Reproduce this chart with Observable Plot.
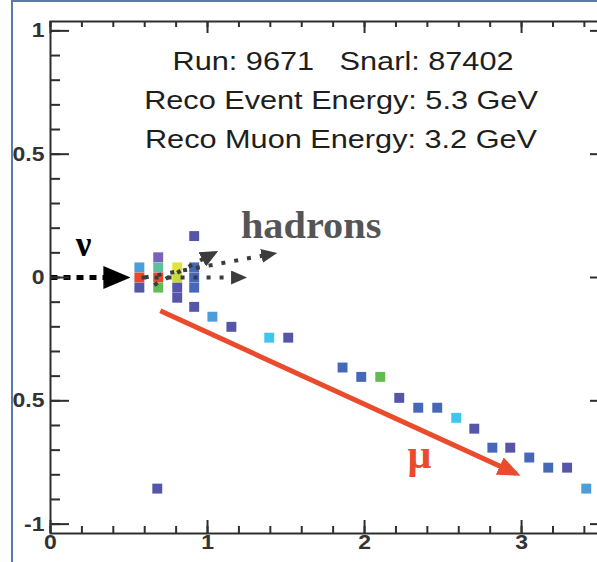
<!DOCTYPE html>
<html>
<head>
<meta charset="utf-8">
<script src="https://cdn.jsdelivr.net/npm/d3@7"></script>
<script src="https://cdn.jsdelivr.net/npm/@observablehq/plot@0.6"></script>
<style>
  html, body { margin: 0; padding: 0; background: #fff; }
  #wrap { position: relative; width: 597px; height: 562px; overflow: hidden; background: #fff; }
  #box { position: absolute; left: 11px; top: 0; width: 700px; height: 700px;
         border-left: 2px solid #5d7ba3; border-top: 2px solid #5d7ba3; overflow: hidden; }
  #chart { position: absolute; left: -13px; top: -2px; }
</style>
</head>
<body>
<div id="wrap"><div id="box"><div id="chart"></div></div></div>
<script>
// Event display: strip hits (transverse position vs. depth) with track annotations.

// Hit positions (m) and pulse-height level of each hit
const hitX = [0.566, 0.566, 0.566,
              0.686, 0.686, 0.686, 0.686,
              0.807, 0.807, 0.807, 0.807,
              0.915, 0.915, 0.915, 0.915, 0.915,
              0.68,
              1.031, 1.152, 1.393, 1.514, 1.86, 1.979, 2.1, 2.221, 2.342,
              2.463, 2.584, 2.699, 2.814, 2.928, 3.049, 3.17, 3.29, 3.412];
const hitY = [0.041, 0, -0.041,
              0.082, 0.041, 0, -0.041,
              0.041, 0, -0.041, -0.082,
              0.168, 0.041, 0, -0.041, -0.119,
              -0.856,
              -0.159, -0.2, -0.244, -0.244, -0.365, -0.403, -0.403, -0.488, -0.528,
              -0.528, -0.569, -0.613, -0.69, -0.69, -0.73, -0.771, -0.771, -0.856];
const hitLevel = [3, 9, 1,
                  0, 5, 9, 6,
                  8, 7, 1, 1,
                  1, 2, 2, 2, 1,
                  1,
                  3, 1, 4, 1, 2, 2, 6, 1, 2,
                  2, 4, 1, 2, 1, 2, 2, 1, 3];

// Annotation arrows: incoming neutrino, hadronic showers, outgoing muon
const arrowName = ["nu", "hadronA", "hadronB", "hadronC", "muon"];
const arrowX1 = [0, 0.58, 0.60, 0.66, 0.699];
const arrowY1 = [0, 0, 0, -0.03, -0.135];
const arrowX2 = [0.477, 1.22, 1.413, 1.04, 2.965];
const arrowY2 = [0, 0, 0.096, 0.098, -0.795];

// Event summary
const infoLines = ["Run: 9671   Snarl: 87402",
                   "Reco Event Energy: 5.3 GeV",
                   "Reco Muon Energy: 3.2 GeV"];

// Axis ticks
const xMajor = [0, 1, 2, 3];
const xTickLabels = ["0", "1", "2", "3"];
const yMajor = [-1, -0.5, 0, 0.5, 1];
const yTickLabels = ["-1", "-0.5", "0", "0.5", "1"];
const xMinor = d3.range(0, 18).map(i => i * 0.2).filter(v => v <= 3.56);
const yMinor = d3.range(-10, 11).map(i => i / 10);

const hits = hitX.map((x, i) => ({x, y: hitY[i], level: hitLevel[i]}));
const arrows = arrowName.map((name, i) => ({name, x1: arrowX1[i], y1: arrowY1[i], x2: arrowX2[i], y2: arrowY2[i]}));
const arrow = name => arrows.filter(a => a.name === name);

const W = 620, H = 562, mL = 50, mR = 11, mT = 21, mB = 29;
const plotW = W - mL - mR, plotH = H - mT - mB;
const axisColor = "#2e2e2e";
const sans = "'Liberation Sans', Arial, Helvetica, sans-serif";
const serif = "'Liberation Serif', 'Times New Roman', serif";
const link = (name, opts) => Plot.link(arrow(name),
  {x1: "x1", y1: "y1", x2: "x2", y2: "y2", ariaDescription: name, ...opts});

const svg = Plot.plot({
  width: W, height: H,
  marginLeft: mL, marginRight: mR, marginTop: mT, marginBottom: mB,
  style: {background: "transparent", whiteSpace: "pre"},
  x: {domain: [0, 3.56], axis: null},
  y: {domain: [-1.038, 1.038], axis: null},
  color: {type: "ordinal", domain: d3.range(0, 10),
          range: ["#7a62b6", "#5656a8", "#4568b8", "#4d9ddb", "#3fc5ef",
                  "#5fbe9c", "#63bb52", "#c6db3a", "#e2e43b", "#e8492e"]},
  marks: [
    // hits
    Plot.dot(hits, {x: "x", y: "y", fill: "level", symbol: "square", r: 5.6}),

    // arrows
    link("nu", {stroke: "#000", strokeWidth: 5, strokeDasharray: "7,6"}),
    link("hadronA", {stroke: "#3c3c3c", strokeWidth: 4, strokeDasharray: "4,9"}),
    link("hadronB", {stroke: "#3c3c3c", strokeWidth: 4, strokeDasharray: "4,9"}),
    link("hadronC", {stroke: "#3c3c3c", strokeWidth: 4, strokeDasharray: "4,9"}),
    link("muon", {stroke: "#ea4b2c", strokeWidth: 5}),

    // labels
    Plot.text(["\u03bd"], {x: 0.21, y: 0.132, text: d => d, fontFamily: serif, fontWeight: "bold",
      fontSize: 35, fill: "#000"}),
    Plot.text(["hadrons"], {x: 1.66, y: 0.207, text: d => d, fontFamily: serif, fontWeight: "bold",
      fontSize: 37, fill: "#555", ariaDescription: "hadrons"}),
    Plot.text(["\u03bc"], {x: 2.35, y: -0.717, text: d => d, fontFamily: serif, fontWeight: "bold",
      fontSize: 42, fill: "#ea4b2c"}),
    Plot.text(infoLines, {x: (d, i) => i === 0 ? 1.863 : 1.85, y: (d, i) => 0.876 - i * 0.158,
      text: d => d, fontFamily: sans, fontSize: 26, fill: "#1e1e1e", ariaDescription: "info"}),

    // inward ticks on all four sides
    Plot.tickY(yMinor, {y: d => d, insetRight: plotW - 10, stroke: axisColor, strokeWidth: 2}),
    Plot.tickY(yMajor, {y: d => d, insetRight: plotW - 19, stroke: axisColor, strokeWidth: 2}),
    Plot.tickY(yMinor, {y: d => d, insetLeft: plotW - 10, stroke: axisColor, strokeWidth: 2}),
    Plot.tickY(yMajor, {y: d => d, insetLeft: plotW - 19, stroke: axisColor, strokeWidth: 2}),
    Plot.tickX(xMinor, {x: d => d, insetTop: plotH - 7, stroke: axisColor, strokeWidth: 2}),
    Plot.tickX(xMajor, {x: d => d, insetTop: plotH - 13, stroke: axisColor, strokeWidth: 2}),
    Plot.tickX(xMinor, {x: d => d, insetBottom: plotH - 6, stroke: axisColor, strokeWidth: 2}),
    Plot.tickX(xMajor, {x: d => d, insetBottom: plotH - 12, stroke: axisColor, strokeWidth: 2}),
    Plot.frame({stroke: axisColor, strokeWidth: 2}),

    // tick labels
    Plot.text(yMajor, {y: d => d, frameAnchor: "left", text: (d, i) => yTickLabels[i],
      textAnchor: "end", dx: -6, fontFamily: sans, fontWeight: "bold", fontSize: 20,
      fill: "#333", ariaDescription: "y tick label"}),
    Plot.text(xMajor, {x: d => d, frameAnchor: "bottom", text: (d, i) => xTickLabels[i],
      dy: 15, fontFamily: sans, fontWeight: "bold", fontSize: 20,
      fill: "#333", ariaDescription: "x tick label"})
  ]
});

// Filled triangular arrowheads
const defs = d3.select(svg).insert("defs", ":first-child");
function head(id, color, len, wid) {
  defs.append("marker")
    .attr("id", id)
    .attr("markerUnits", "userSpaceOnUse")
    .attr("markerWidth", len).attr("markerHeight", wid)
    .attr("viewBox", `0 0 ${len} ${wid}`)
    .attr("refX", len - 5).attr("refY", wid / 2)
    .attr("orient", "auto")
    .append("path")
    .attr("d", `M0,0L${len},${wid / 2}L0,${wid}Z`)
    .attr("fill", color)
    .attr("stroke", "none");
}
head("head-nu", "#000", 27, 23);
head("head-had", "#3c3c3c", 16, 14);
head("head-hadc", "#3c3c3c", 18, 16);
head("head-mu", "#ea4b2c", 23, 19);
const setHead = (desc, id) =>
  d3.select(svg).selectAll(`g[aria-description="${desc}"] path`).attr("marker-end", `url(#${id})`);
setHead("nu", "head-nu");
setHead("hadronA", "head-had");
setHead("hadronB", "head-had");
setHead("hadronC", "head-hadc");
setHead("muon", "head-mu");

// Slightly wide lettering for the summary, the shower label and tick labels
const widen = (desc, k) =>
  d3.select(svg).selectAll(`g[aria-description="${desc}"] text`).each(function () {
    const t = this.getAttribute("transform") || "";
    this.setAttribute("transform", `${t} scale(${k},1)`);
  });
widen("info", 1.18);
widen("hadrons", 1.09);
widen("y tick label", 1.15);
widen("x tick label", 1.15);

document.getElementById("chart").appendChild(svg);
</script>
</body>
</html>
